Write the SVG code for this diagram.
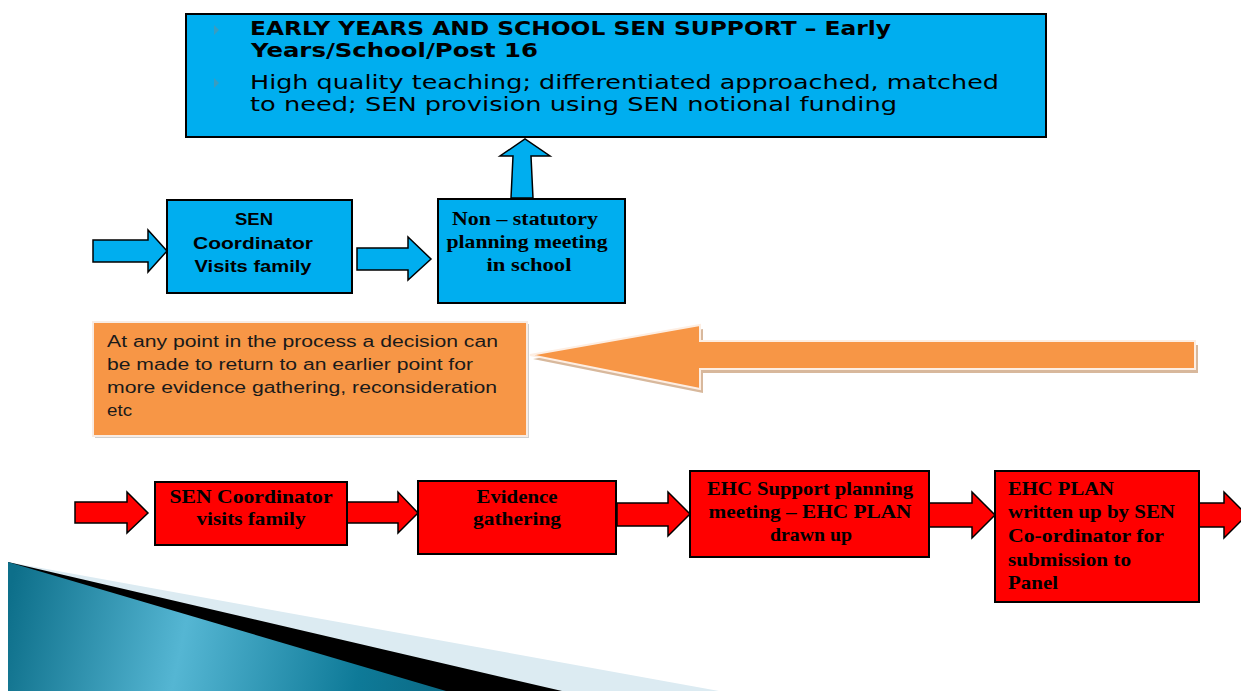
<svg xmlns="http://www.w3.org/2000/svg" width="1241" height="691" viewBox="0 0 1241 691">
<defs>
<style>
.blue{fill:#00AEEF;stroke:#000;stroke-width:2}
.red{fill:#FF0000;stroke:#000;stroke-width:2}
.barr{fill:#00AEEF;stroke:#000;stroke-width:1.5}
.rarr{fill:#FF0000;stroke:#000;stroke-width:1.5}
.hd{font-family:"DejaVu Sans",sans-serif;font-size:19px;font-weight:bold;fill:#000}
.bd{font-family:"DejaVu Sans",sans-serif;font-size:19px;fill:#000}
.ar{font-family:"Liberation Sans",Arial,sans-serif;font-size:17px;font-weight:bold;fill:#000;text-anchor:middle}
.tm{font-family:"Liberation Serif","Times New Roman",serif;font-size:19px;font-weight:bold;fill:#000}
.tmc{text-anchor:middle}
.or{font-family:"Liberation Sans",Arial,sans-serif;font-size:16px;fill:#1a1a1a}
</style>
<linearGradient id="teal" x1="8" y1="600" x2="446" y2="691" gradientUnits="userSpaceOnUse">
<stop offset="0" stop-color="#0d6f8a"/>
<stop offset="0.4" stop-color="#55b6d3"/>
<stop offset="0.8" stop-color="#0e7a98"/>
<stop offset="1" stop-color="#0b6a85"/>
</linearGradient>
</defs>
<rect width="1241" height="691" fill="#fff"/>

<g id="decoration">
<polygon points="8,562 719,691 8,691" fill="#dcebf2"/>
<polygon points="8,562 562,691 8,691" fill="#000"/>
<polygon points="8,562 446,691 8,691" fill="url(#teal)"/>
</g>

<g id="connectors">
<polygon class="barr" points="511,198 513,156 500,156 525,139 550,156 531,156 533,198"/>
<polygon class="barr" points="93,240 148,240 148,230 167,251 148,272 148,262 93,262"/>
<polygon class="barr" points="357,248 408,248 408,237 431,259 408,280 408,270 357,270"/>
<polygon points="533,359 703,329 703,345 1198,345 1198,373 703,373 703,393" fill="#d8b89c"/>
<polygon points="530,355 700,325 700,341 1195,341 1195,369 700,369 700,389" fill="#F79646" stroke="#fdeee3" stroke-width="2"/>
<polygon class="rarr" points="75,502 127,502 127,492 148,513 127,533 127,523 75,523"/>
<polygon class="rarr" points="347,502 398,502 398,492 418,513 398,533 398,523 347,523"/>
<polygon class="rarr" points="617,503 668,503 668,492 690,514 668,536 668,526 617,526"/>
<polygon class="rarr" points="929,503 972,503 972,492 995,515 972,538 972,527 929,527"/>
<polygon class="rarr" points="1199,503 1224,503 1224,492 1247,515 1224,538 1224,527 1199,527"/>
</g>

<g id="node-top">
<rect class="blue" x="186" y="14" width="860" height="123"/>
<polygon points="214,25 219,30 214,35" fill="#3a9cc0"/>
<polygon points="214,78 219,83 214,88" fill="#3a9cc0"/>
<text class="hd" x="250" y="35" textLength="641" lengthAdjust="spacingAndGlyphs">EARLY YEARS AND SCHOOL SEN SUPPORT – Early</text>
<text class="hd" x="251" y="57" textLength="287" lengthAdjust="spacingAndGlyphs">Years/School/Post 16</text>
<text class="bd" x="250" y="89" textLength="749" lengthAdjust="spacingAndGlyphs">High quality teaching; differentiated approached, matched</text>
<text class="bd" x="250" y="111" textLength="647" lengthAdjust="spacingAndGlyphs">to need; SEN provision using SEN notional funding</text>
</g>

<g id="node-sen-blue">
<rect class="blue" x="167" y="200" width="185" height="93"/>
<text class="ar" x="254" y="225" textLength="38" lengthAdjust="spacingAndGlyphs">SEN</text>
<text class="ar" x="253" y="249" textLength="120" lengthAdjust="spacingAndGlyphs">Coordinator</text>
<text class="ar" x="253" y="272" textLength="117" lengthAdjust="spacingAndGlyphs">Visits family</text>
</g>

<g id="node-nonstat">
<rect class="blue" x="438" y="199" width="187" height="104"/>
<text class="tm tmc" x="525" y="225" font-size="17" textLength="146" lengthAdjust="spacingAndGlyphs">Non – statutory</text>
<text class="tm tmc" x="527" y="248" font-size="17" textLength="161" lengthAdjust="spacingAndGlyphs">planning meeting</text>
<text class="tm tmc" x="529" y="271" font-size="17" textLength="85" lengthAdjust="spacingAndGlyphs">in school</text>
</g>

<g id="node-note">
<rect x="95" y="324" width="434" height="114" fill="#cfcfcf"/>
<rect x="93" y="322" width="434" height="114" fill="#F79646" stroke="#f8ece4" stroke-width="2"/>
<text class="or" x="107" y="347" textLength="391" lengthAdjust="spacingAndGlyphs">At any point in the process a decision can</text>
<text class="or" x="107" y="370" textLength="366" lengthAdjust="spacingAndGlyphs">be made to return to an earlier point for</text>
<text class="or" x="107" y="393" textLength="390" lengthAdjust="spacingAndGlyphs">more evidence  gathering, reconsideration</text>
<text class="or" x="107" y="416" textLength="25" lengthAdjust="spacingAndGlyphs">etc</text>
</g>

<g id="node-r1">
<rect class="red" x="155" y="482" width="192" height="63"/>
<text class="tm tmc" x="251" y="503" textLength="163" lengthAdjust="spacingAndGlyphs">SEN Coordinator</text>
<text class="tm tmc" x="251" y="525" textLength="109" lengthAdjust="spacingAndGlyphs">visits family</text>
</g>

<g id="node-r2">
<rect class="red" x="418" y="481" width="198" height="73"/>
<text class="tm tmc" x="517" y="503" textLength="81" lengthAdjust="spacingAndGlyphs">Evidence</text>
<text class="tm tmc" x="517" y="525" textLength="88" lengthAdjust="spacingAndGlyphs">gathering</text>
</g>

<g id="node-r3">
<rect class="red" x="690" y="471" width="239" height="86"/>
<text class="tm tmc" x="810" y="495" textLength="206" lengthAdjust="spacingAndGlyphs">EHC Support planning</text>
<text class="tm tmc" x="810" y="518" textLength="203" lengthAdjust="spacingAndGlyphs">meeting – EHC PLAN</text>
<text class="tm tmc" x="811" y="541" textLength="82" lengthAdjust="spacingAndGlyphs">drawn up</text>
</g>

<g id="node-r4">
<rect class="red" x="995" y="471" width="204" height="131"/>
<text class="tm" x="1008" y="495" textLength="106" lengthAdjust="spacingAndGlyphs">EHC PLAN</text>
<text class="tm" x="1008" y="518" textLength="167" lengthAdjust="spacingAndGlyphs">written up by SEN</text>
<text class="tm" x="1008" y="542" textLength="156" lengthAdjust="spacingAndGlyphs">Co-ordinator for</text>
<text class="tm" x="1008" y="566" textLength="123" lengthAdjust="spacingAndGlyphs">submission   to</text>
<text class="tm" x="1008" y="589" textLength="50" lengthAdjust="spacingAndGlyphs">Panel</text>
</g>
</svg>
